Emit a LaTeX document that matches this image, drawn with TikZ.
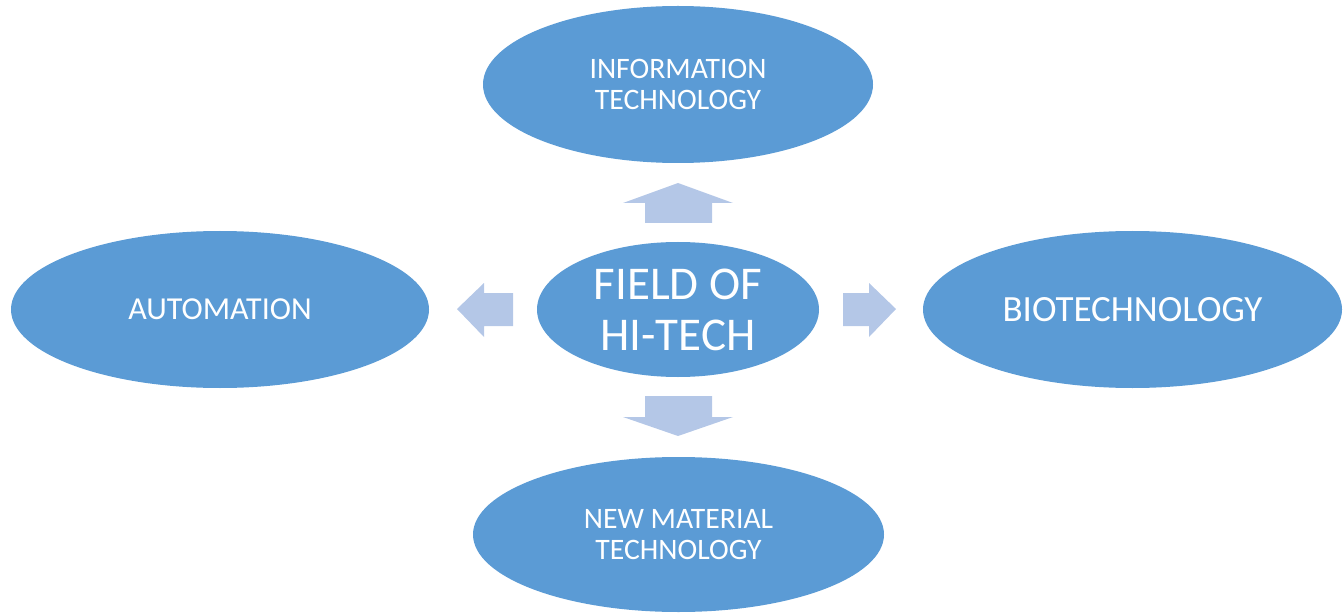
\documentclass[tikz,border=0pt]{standalone}
\usepackage{fontspec}
\setmainfont{Carlito}
\usepackage{tikz}
\usetikzlibrary{shapes.geometric}
\definecolor{elblue}{HTML}{5B9BD5}
\definecolor{arblue}{HTML}{B4C7E7}

\begin{document}
\begin{tikzpicture}[
          el/.style={ellipse, fill=elblue, text=white, inner sep=0pt, align=center},
          ar/.style={fill=arblue},
          x=1pt,
          y=1pt,
        ]
      \useasboundingbox (0, 0) rectangle (1343, 614);
      \node[el, minimum width=390pt, minimum height=157pt, font=\fontsize{29.7}{31}\selectfont] (info) at (678, 529.5) {INFORMATION\\TECHNOLOGY};
      \node[el, minimum width=418pt, minimum height=157pt, font=\fontsize{32}{36}\selectfont] (auto) at (220, 304.5) {AUTOMATION};
      \node[el, minimum width=419pt, minimum height=157pt, font=\fontsize{37}{40}\selectfont] (bio) at (1132.5, 304.5) {BIOTECHNOLOGY};
      \node[el, minimum width=411pt, minimum height=155pt, font=\fontsize{29.7}{31}\selectfont] (newmat) at (678.5, 79.5) {NEW MATERIAL\\TECHNOLOGY};
      \node[el, minimum width=282pt, minimum height=135pt, font=\fontsize{47}{51}\selectfont] (field) at (678, 304.5) {FIELD OF\\HI-TECH};
      \fill[ar] (678, 431) -- (733, 411) -- (712, 411) -- (712, 391) -- (645, 391) -- (645, 411) -- (623, 411) -- cycle;
      \fill[ar] (678, 178) -- (733, 197) -- (712, 197) -- (712, 218) -- (645, 218) -- (645, 197) -- (623, 197) -- cycle;
      \fill[ar] (457, 305) -- (484, 331) -- (484, 321) -- (513, 321) -- (513, 288) -- (484, 288) -- (484, 277) -- cycle;
      \fill[ar] (896, 305) -- (869, 331) -- (869, 321) -- (843, 321) -- (843, 288) -- (869, 288) -- (869, 277) -- cycle;
    \end{tikzpicture}
\end{document}
